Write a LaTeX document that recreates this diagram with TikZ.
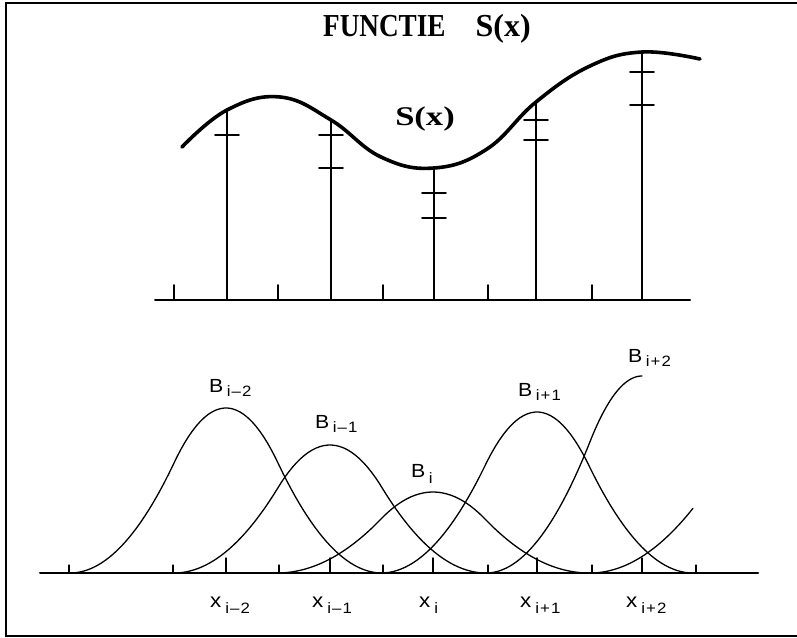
\documentclass[tikz,border=0pt]{standalone}
\usepackage{fontspec}
\usepackage{graphicx}
\setmainfont{Liberation Serif}
\setsansfont{Liberation Sans}
\usepackage{tikz}
\newcommand{\sbm}{\kern1pt\textendash\kern1pt}
\newcommand{\sbp}{\kern1pt+\kern1pt}
\newcommand{\Bsub}[1]{B\kern3pt\raisebox{-4pt}{\fontsize{15}{15}\selectfont #1}}
\newcommand{\Xsub}[1]{x\kern3.5pt\raisebox{-6pt}{\fontsize{15}{15}\selectfont #1}}

\begin{document}
\begin{tikzpicture}[x=1pt, y=-1pt, line cap=round,
    declare function={bq(\t)=(abs(\t)<=0.5)*(0.75-\t*\t)
        +(abs(\t)>0.5)*(abs(\t)<=1.5)*0.5*(1.5-abs(\t))*(1.5-abs(\t));},
    blab/.style={font=\sffamily\fontsize{19}{19}\selectfont, anchor=base west, inner sep=0pt, xscale=1.12},
    xlab/.style={blab, font=\sffamily\fontsize{20}{20}\selectfont}]

    \useasboundingbox (0,0) rectangle (797,637);

    % Frame (right side cut off)
    \draw[line width=2.5pt, line cap=butt] (797,3) -- (6,3) -- (6,636) -- (797,636);

    % Title
    \node[anchor=base west, inner sep=0pt, font=\bfseries\fontsize{32}{32}\selectfont] (title)
        at (323,36) {\scalebox{0.85}[1]{FUNCTIE}\hspace{30pt}S(x)};

    % The function S(x) and its values at the centres
    \coordinate (s1) at (227,110);
    \coordinate (s2) at (331,120);
    \coordinate (s3) at (434,168);
    \coordinate (s4) at (536,102);
    \coordinate (s5) at (642,52);
    \draw[line width=3.6pt] plot[smooth, tension=0.7] coordinates {(182,147) (s1) (280,97) (s2)
        (381,157) (s3) (487,149) (s4) (590,66) (s5) (700,59)};
    \node[anchor=base west, inner sep=0pt, font=\bfseries\fontsize{27}{27}\selectfont, xscale=1.28] (slab)
        at (395,125) {S(x)};

    % Upper axis with knots
    \coordinate (ta) at (155,300);
    \coordinate (tb) at (690,300);
    \draw[line width=2pt] (ta) -- (tb);
    \foreach \x in {174,278,383,488,592}
        \draw[line width=1.6pt] (\x,300) -- (\x,285);
    \foreach \s in {s1,s2,s3,s4,s5}
        \draw[line width=1.5pt] (\s) -- (\s |- ta);

    % Short marks on the stems
    \foreach \x/\y in {227/135, 331/135, 331/168, 434/193, 434/218, 536/120, 536/140, 642/72, 642/105}
        \draw[line width=1.6pt] (\x-12,\y) -- (\x+12,\y);

    % Lower axis with knots and centres
    \coordinate (ba) at (40,573);
    \coordinate (bb) at (758,573);
    \draw[line width=2pt] (ba) -- (bb);
    \foreach \x in {69,173,279,383,488,592,696}
        \draw[line width=1.3pt] (\x,573) -- (\x,565);
    \foreach \x in {226,330,433,537,642}
        \draw[line width=1.5pt] (\x,573) -- (\x,558);

    % The quadratic B-splines
    \foreach \c/\a/\lo/\hi in {226/165/70/382, 330/128/174/486, 433/81/277/589,
                               537/161/381/693, 642/197/486/642, 746/99/590/693}
        \draw[line width=1.3pt] plot[domain=\lo:\hi, samples=80] (\x,{573-\a*bq((\x-\c)/104)/0.75});

    % Labels of the splines
    \node[blab] (lbm2) at (209,392) {\Bsub{i\sbm2}};
    \node[blab] (lbm1) at (315,428) {\Bsub{i\sbm1}};
    \node[blab] (lb0)  at (411,477) {\Bsub{\raisebox{-2pt}{i}}};
    \node[blab] (lbp1) at (518,396) {\Bsub{i\sbp1}};
    \node[blab] (lbp2) at (628,362) {\Bsub{i\sbp2}};

    % Labels of the centres
    \node[xlab] (xm2) at (210,607) {\Xsub{i\sbm2}};
    \node[xlab] (xm1) at (312,607) {\Xsub{i\sbm1}};
    \node[xlab] (x0)  at (419,607) {\Xsub{i}};
    \node[xlab] (xp1) at (520,607) {\Xsub{i\sbp1}};
    \node[xlab] (xp2) at (626,607) {\Xsub{i\sbp2}};

\end{tikzpicture}
\end{document}
